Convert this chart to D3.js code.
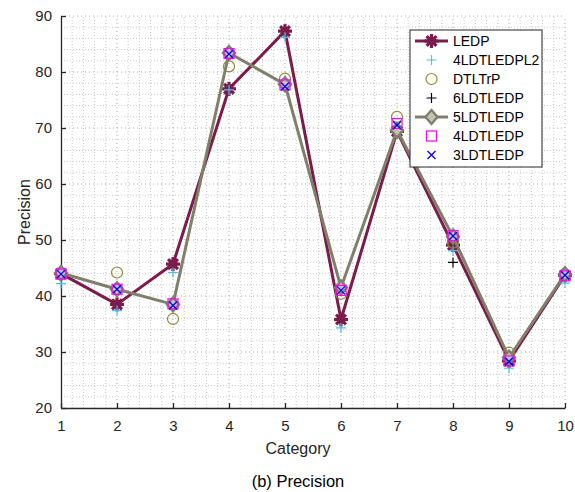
<!DOCTYPE html>
<html><head><meta charset="utf-8">
<script src="https://cdn.jsdelivr.net/npm/d3@7"></script>
<style>body{margin:0;background:#fff}svg{display:block}text{font-family:"Liberation Sans",Arial,sans-serif}</style>
</head><body>
<svg id="c" width="575" height="492"></svg>
<script>
const categories = [1,2,3,4,5,6,7,8,9,10];
const xTicks = [1,2,3,4,5,6,7,8,9,10];
const yTicks = [20,30,40,50,60,70,80,90];
const LEDP        = [44.0, 38.5, 45.7, 77.0, 87.3, 35.8, 69.4, 49.1, 28.4, 43.7];
const L4LDTLEDPL2 = [42.2, 37.4, 44.2, 76.8, 86.2, 34.3, 70.0, 48.1, 27.1, 42.3];
const DTLTrP      = [44.0, 44.2, 35.9, 81.0, 78.8, 40.4, 72.0, 49.5, 29.9, 43.8];
const L6LDTLEDP   = [44.0, 41.0, 38.3, 83.2, 77.5, 41.0, 70.2, 46.0, 28.3, 43.7];
const L5LDTLEDP   = [44.1, 41.2, 38.5, 83.4, 77.8, 41.5, 69.6, 50.6, 29.0, 43.9];
const L4LDTLEDP   = [43.9, 41.2, 38.6, 83.3, 77.7, 41.0, 70.8, 50.8, 28.4, 43.6];
const L3LDTLEDP   = [43.9, 41.2, 38.3, 83.2, 77.4, 41.0, 70.5, 50.7, 28.3, 43.7];

const series = [
  {name:"LEDP", vals:LEDP, color:"#7b1c4b", line:true, marker:"star"},
  {name:"4LDTLEDPL2", vals:L4LDTLEDPL2, color:"#4dbeee", line:false, marker:"plus"},
  {name:"DTLTrP", vals:DTLTrP, color:"#8f8a2e", line:false, marker:"circle"},
  {name:"6LDTLEDP", vals:L6LDTLEDP, color:"#000000", line:false, marker:"plus"},
  {name:"5LDTLEDP", vals:L5LDTLEDP, color:"#80806a", line:true, marker:"diamond"},
  {name:"4LDTLEDP", vals:L4LDTLEDP, color:"#ff00ff", line:false, marker:"square"},
  {name:"3LDTLEDP", vals:L3LDTLEDP, color:"#0000ff", line:false, marker:"x"}
];

const svg = d3.select("#c");
const x = d3.scaleLinear().domain([1,10]).range([61,565]);
const y = d3.scaleLinear().domain([20,90]).range([408,16]);

// grid
const g = svg.append("g");
const xMinor = d3.range(1,10.001,0.2).filter(v=>Math.abs(v-Math.round(v))>0.01);
const yMinor = d3.range(20,90.001,2).filter(v=>v%10!==0);
g.selectAll(".xm").data(xMinor).enter().append("line")
  .attr("x1",d=>x(d)).attr("x2",d=>x(d)).attr("y1",y(20)).attr("y2",y(90))
  .attr("stroke","#c8c8c8").attr("stroke-width",1).attr("stroke-dasharray","1,2");
g.selectAll(".ym").data(yMinor).enter().append("line")
  .attr("y1",d=>y(d)).attr("y2",d=>y(d)).attr("x1",x(1)).attr("x2",x(10))
  .attr("stroke","#c8c8c8").attr("stroke-width",1).attr("stroke-dasharray","1,2");
g.selectAll(".xM").data(xTicks.slice(1)).enter().append("line")
  .attr("x1",d=>x(d)).attr("x2",d=>x(d)).attr("y1",y(20)).attr("y2",y(90))
  .attr("stroke","#a8a8a8").attr("stroke-width",1).attr("stroke-dasharray","1,3");
g.selectAll(".yM").data(yTicks.slice(1)).enter().append("line")
  .attr("y1",d=>y(d)).attr("y2",d=>y(d)).attr("x1",x(1)).attr("x2",x(10))
  .attr("stroke","#a8a8a8").attr("stroke-width",1).attr("stroke-dasharray","1,3");

// axes
const xAxis = d3.axisBottom(x).tickValues(xTicks).tickSizeInner(-5).tickSizeOuter(0).tickPadding(12).tickFormat(d3.format("d"));
const yAxis = d3.axisLeft(y).tickValues(yTicks).tickSizeInner(-5).tickSizeOuter(0).tickPadding(9).tickFormat(d3.format("d"));
const gx = svg.append("g").attr("transform",`translate(0,${y(20)})`).call(xAxis);
const gy = svg.append("g").attr("transform",`translate(${x(1)},0)`).call(yAxis);
[gx,gy].forEach(a=>{
  a.selectAll("path").attr("stroke","#262626").attr("stroke-width",1.3);
  a.selectAll("line").attr("stroke","#262626").attr("stroke-width",1.3);
  a.selectAll("text").attr("font-size",15).attr("fill","#262626").attr("font-family","Liberation Sans, Arial, sans-serif");
});

svg.append("text").attr("x",298).attr("y",454).attr("text-anchor","middle").attr("font-size",16).attr("fill","#262626").text("Category");
svg.append("text").attr("transform","translate(30,212) rotate(-90)").attr("text-anchor","middle").attr("font-size",16).attr("fill","#262626").text("Precision");
svg.append("text").attr("x",298).attr("y",487).attr("text-anchor","middle").attr("font-size",16.5).attr("fill","#000").text("(b) Precision");

function drawMarker(sel, type, color){
  if(type==="star"){
    [0,45,90,135].forEach(a=>{
      sel.append("line").attr("x1",-7).attr("x2",7).attr("y1",0).attr("y2",0)
        .attr("transform",`rotate(${a})`).attr("stroke",color).attr("stroke-width",3.2);
    });
    sel.append("circle").attr("r",4.5).attr("fill",color);
  } else if(type==="plus"){
    sel.append("path").attr("d","M-5,0H5M0,-5V5").attr("stroke",color).attr("stroke-width",1.2).attr("fill","none");
  } else if(type==="circle"){
    sel.append("circle").attr("r",5.5).attr("fill","none").attr("stroke",color).attr("stroke-width",1.2);
  } else if(type==="diamond"){
    sel.append("path").attr("d","M0,-7L6,0L0,7L-6,0Z").attr("fill","#c4c4b4").attr("stroke",color).attr("stroke-width",2.4);
  } else if(type==="square"){
    sel.append("rect").attr("x",-5).attr("y",-5).attr("width",10).attr("height",10).attr("fill","none").attr("stroke",color).attr("stroke-width",1.2);
  } else if(type==="x"){
    sel.append("path").attr("d","M-4,-4L4,4M-4,4L4,-4").attr("stroke",color).attr("stroke-width",1.3).attr("fill","none");
  }
}

const line = d3.line().x((d,i)=>x(categories[i])).y(d=>y(d));
series.forEach(s=>{
  const sg = svg.append("g");
  if(s.line){
    sg.append("path").attr("d",line(s.vals)).attr("fill","none").attr("stroke",s.color).attr("stroke-width",3).attr("stroke-linejoin","round");
  }
  s.vals.forEach((v,i)=>{
    const m = sg.append("g").attr("transform",`translate(${x(categories[i])},${y(v)})`);
    drawMarker(m, s.marker, s.color);
  });
});

// legend
const lg = svg.append("g").attr("transform","translate(410,30)");
lg.append("rect").attr("x",0).attr("y",0).attr("width",132).attr("height",137).attr("fill","#fff").attr("stroke","#262626").attr("stroke-width",1);
series.forEach((s,i)=>{
  const yy = 11 + i*19;
  const e = lg.append("g").attr("transform",`translate(0,${yy})`);
  if(s.line) e.append("line").attr("x1",5).attr("x2",38).attr("y1",0).attr("y2",0).attr("stroke",s.color).attr("stroke-width",3);
  const m = e.append("g").attr("transform","translate(21.5,0)");
  drawMarker(m, s.marker, s.color);
  e.append("text").attr("x",43).attr("y",5).attr("font-size",14).attr("fill","#000").text(s.name);
});
</script>
</body></html>
